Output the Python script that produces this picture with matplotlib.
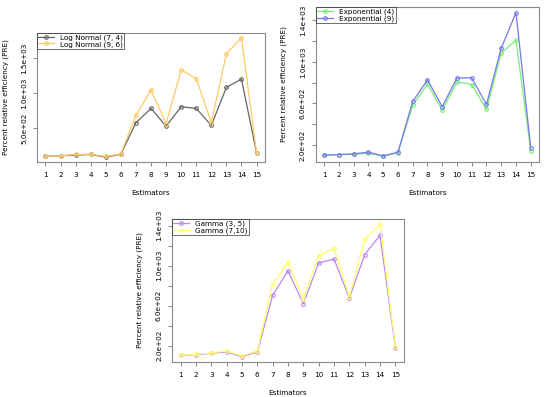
import matplotlib

matplotlib.use("Agg")
import matplotlib.pyplot as plt
import numpy as np

estimators = list(range(1, 16))

# Log Normal panel
lognormal_7_4 = [105, 110, 119, 129, 90, 133, 581, 786, 533, 810, 786, 543, 1086, 1205, 152]
lognormal_9_6 = [105, 110, 129, 133, 100, 138, 686, 1048, 567, 1338, 1210, 586, 1567, 1795, 152]

# Exponential panel
exponential_4 = [101, 107, 110, 120, 91, 126, 581, 786, 533, 808, 782, 542, 1086, 1208, 146]
exponential_9 = [101, 107, 114, 130, 94, 130, 619, 827, 568, 846, 846, 590, 1134, 1474, 174]

# Gamma panel
gamma_3_5 = [104, 110, 124, 137, 90, 137, 703, 949, 619, 1027, 1067, 676, 1111, 1303, 178]
gamma_7_10 = [104, 114, 127, 147, 97, 147, 815, 1034, 670, 1101, 1175, 690, 1263, 1414, 191]

FS = 5.2


def _sci(v):
    return "%.1e" % v


def draw_panel(ax, series, labels, colors, yticks, ylabeled):
    for vals, lab, col in zip(series, labels, colors):
        ax.plot(estimators, vals, color=col, lw=0.9, marker="o", ms=2.6,
                mfc="none", mew=0.8, label=lab)
    allv = np.concatenate([np.asarray(s, float) for s in series])
    lo, hi = allv.min(), allv.max()
    pad = (hi - lo) * 0.04
    ax.set_ylim(lo - pad, hi + pad)
    ax.set_xlim(0.44, 15.56)
    ax.set_xticks(estimators)
    ax.set_xticklabels([str(e) for e in estimators], fontsize=FS)
    ax.set_yticks(yticks)
    ax.set_yticklabels([_sci(v) if v in ylabeled else "" for v in yticks],
                       fontsize=FS, rotation=90, va="center")
    ax.tick_params(length=3.2, width=0.5, color="#555555", pad=4)
    for s in ax.spines.values():
        s.set_color("#888888")
        s.set_linewidth(0.8)
    ax.set_xlabel("Estimators", fontsize=FS, labelpad=9)
    ax.set_ylabel("Percent relative efficiency (PRE)", fontsize=FS, labelpad=9)
    leg = ax.legend(loc="upper left", fontsize=FS, frameon=True, fancybox=False,
                    borderpad=0.2, labelspacing=0.0, handlelength=2.2,
                    borderaxespad=0.0, handletextpad=0.8)
    leg.get_frame().set_edgecolor("black")
    leg.get_frame().set_linewidth(0.5)


fig = plt.figure(figsize=(5.5, 3.97), dpi=100)

ax1 = fig.add_axes([0.0673, 0.592, 0.4145, 0.325])
draw_panel(ax1, [lognormal_7_4, lognormal_9_6],
           ["Log Normal (7, 4)", "Log Normal (9, 6)"],
           ["#666666", "#ffc966"],
           [500, 1000, 1500], [500, 1000, 1500])

ax2 = fig.add_axes([0.5745, 0.592, 0.4055, 0.3904])
draw_panel(ax2, [exponential_4, exponential_9],
           ["Exponential (4)", "Exponential (9)"],
           ["#77ee77", "#7777ee"],
           [200, 400, 600, 800, 1000, 1200, 1400], [200, 600, 1000, 1400])

ax3 = fig.add_axes([0.3127, 0.0882, 0.4218, 0.3602])
draw_panel(ax3, [gamma_3_5, gamma_7_10],
           ["Gamma (3, 5)", "Gamma (7,10)"],
           ["#bb88ee", "#ffff66"],
           [200, 400, 600, 800, 1000, 1200, 1400], [200, 600, 1000, 1400])

fig.savefig("out.png", dpi=100)
plt.close(fig)
